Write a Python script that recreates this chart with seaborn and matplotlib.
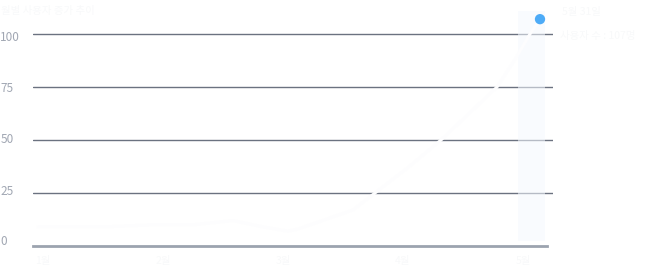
import matplotlib
matplotlib.use("Agg")
import matplotlib.pyplot as plt
import matplotlib.transforms as mtransforms
import seaborn as sns
import pandas as pd

# ---- data ----
day = [-1, 12, 22, 30, 38, 44, 49, 51, 62, 66.4, 73, 79.6, 85, 90.8, 94.4, 97.4, 99.4]
value = [9, 9, 10, 10, 12, 9, 7, 8, 17, 25, 37, 50, 62, 75, 88, 100, 107]
x_tick_pos = [0, 24, 48, 72, 96]
x_tick_labels = ["1월", "2월", "3월", "4월", "5월"]
y_ticks = [0, 25, 50, 75, 100]
title_text = "월별 사용자 증가 추이"
tip_title = "5월 31일"
tip_value = "사용자 수 : 107명"

df = pd.DataFrame({"day": day, "value": value})

sns.set_theme(style="white")
plt.rcParams["font.family"] = ["Noto Sans CJK KR", "DejaVu Sans"]

fig = plt.figure(figsize=(6.68, 2.76), dpi=100)
W, H = 668, 276
left_px, right_px, top_px, bottom_px = 33, 553, 6, 246
ax = fig.add_axes([left_px / W, (H - bottom_px) / H, (right_px - left_px) / W, (bottom_px - top_px) / H])
ax.set_xlim(-2, 102)
ax.set_ylim(0, (bottom_px - top_px) / 2.12)

# grid lines
for t in y_ticks[1:]:
    ax.axhline(t, color="#6b7280", lw=1.0, zorder=1)

# highlight band (hover)
ax.axvspan(95, 100.4, ymin=0.02, ymax=0.98, color="#f5f9fe", alpha=0.55, lw=0, zorder=2)

# line
sns.lineplot(data=df, x="day", y="value", ax=ax, color="#fdfdfe", lw=2.2, zorder=3, legend=False)
# last point marker
sns.scatterplot(x=[day[-1]], y=[value[-1]], ax=ax, color="#4dabf7", s=55, edgecolor="none", zorder=5, legend=False)

for s in ["top", "right", "left"]:
    ax.spines[s].set_visible(False)
ax.spines["bottom"].set_color("#9ca3af")
ax.spines["bottom"].set_linewidth(2.0)
ax.spines["bottom"].set_bounds(-2, 100.8)

ax.set_yticks(y_ticks)
ax.set_yticklabels([str(t) for t in y_ticks])
ax.tick_params(axis="y", length=0, pad=23.5, labelsize=8.5, labelcolor="#a1a7b3")
offsets_px = [6, 3, 2, 0, -2]
for lbl, dy in zip(ax.get_yticklabels(), offsets_px):
    lbl.set_horizontalalignment("left")
    lbl.set_transform(lbl.get_transform() + mtransforms.ScaledTranslation(0, dy / 100, fig.dpi_scale_trans))
ax.set_xticks(x_tick_pos)
ax.set_xticklabels(x_tick_labels)
ax.tick_params(axis="x", length=0, pad=7, labelsize=7.5, labelcolor="#f8f9fa")
ax.set_xlabel("")
ax.set_ylabel("")
ax.grid(False)

fig.text(1 / W, 1 - 11 / H, title_text, fontsize=7.5, color="#f8f9fa", va="center", ha="left")
fig.text(562 / W, 1 - 12 / H, tip_title, fontsize=7.5, color="#f8f9fa", va="center", ha="left")
fig.text(560 / W, 1 - 36 / H, tip_value, fontsize=7.5, color="#f8f9fa", va="center", ha="left")

fig.savefig("out.png", dpi=100, facecolor="white")
